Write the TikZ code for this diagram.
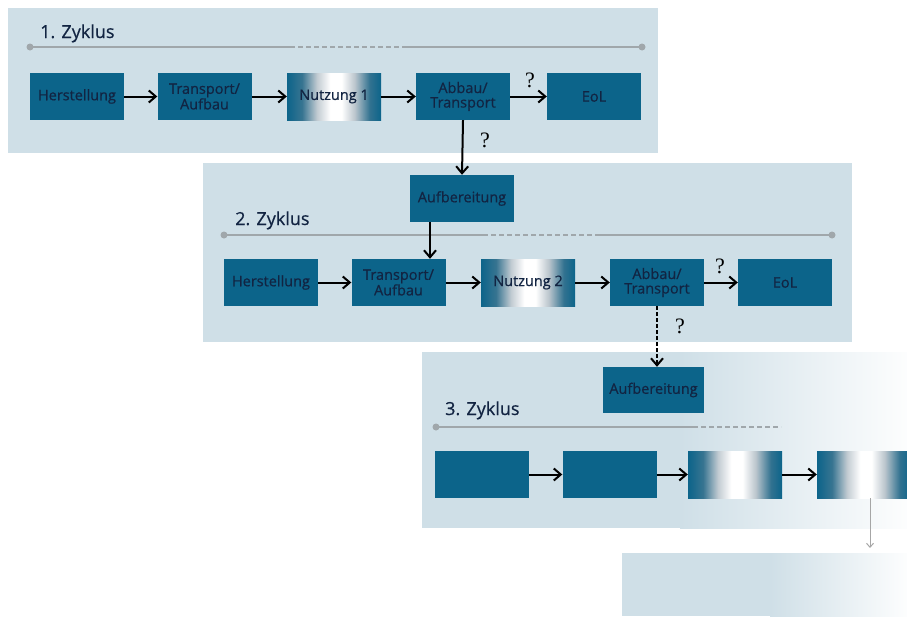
\documentclass[tikz,border=0pt]{standalone}
\usepackage{fontspec}
\setmainfont{Open Sans}
\newfontfamily\boxfont{Open Sans}[FakeBold=0.6]
\newfontfamily\qfont{Liberation Serif}
\usetikzlibrary{arrows.meta}

\definecolor{panelblue}{RGB}{207,223,231}
\definecolor{boxblue}{RGB}{12,100,138}
\definecolor{textnavy}{RGB}{18,36,66}
\definecolor{linegray}{RGB}{160,167,171}
\definecolor{fadegray}{RGB}{120,140,155}

% light band in the middle of the use-phase boxes
\pgfdeclarehorizontalshading{usefade}{100bp}{color(0bp)=(boxblue); color(25bp)=(boxblue);
  color(33bp)=(boxblue!60!fadegray); color(41bp)=(fadegray!45!white); color(48bp)=(white);
  color(54bp)=(white); color(61bp)=(fadegray!50!white); color(69bp)=(boxblue!65!fadegray);
  color(75bp)=(boxblue); color(100bp)=(boxblue)}

\tikzset{
  box/.style={minimum width=94pt, minimum height=47pt, inner sep=0pt, fill=boxblue,
    text=textnavy, align=center, font=\boxfont\fontsize{14.5}{14.5}\selectfont},
  usebox/.style={box, shading=usefade},
  flow/.style={-{Straight Barb[length=7pt,width=12pt]}, line width=2pt, black},
  track/.style={line width=1.6pt, linegray},
  title/.style={anchor=base west, inner sep=0pt, text=textnavy, font=\boxfont\fontsize{18}{20}\selectfont},
  quest/.style={inner sep=0pt, font=\qfont\fontsize{22}{24}\selectfont}
}

\begin{document}
\begin{tikzpicture}[x=1pt,y=-1pt]
\useasboundingbox (0,0) rectangle (907,616);

% Panels
\fill[panelblue] (8,8) rectangle (658,153);
\fill[panelblue] (203,163) rectangle (852,342);
\fill[panelblue] (422,352) rectangle (680,528);
\shade[left color=panelblue, right color=panelblue!5!white] (680,352) rectangle (907,528);
\fill[panelblue] (622,553) rectangle (770,616);
\shade[left color=panelblue, right color=panelblue!5!white] (770,553) rectangle (907,616);

% 1. Zyklus
\node[title] (title1) at (40,38) {1. Zyklus};
\draw[track] (30,47) -- (290,47);
\draw[track, dash pattern=on 5pt off 3pt] (290,47) -- (405,47);
\draw[track] (405,47) -- (642,47);
\fill[linegray] (30,47) circle (3.5pt) (642,47) circle (3.5pt);

\node[box] (herst1) at (77,96.5) {Herstellung};
\node[box] (trans1) at (204.5,96.5) {Transport/\\Aufbau};
\node[usebox] (nutz1) at (334,96.5) {Nutzung 1};
\node[box] (abbau1) at (463,96.5) {Abbau/\\Transport};
\node[box] (eol1) at (594,96.5) {EoL};

\draw[flow] (herst1) -- (trans1);
\draw[flow] (trans1) -- (nutz1);
\draw[flow] (nutz1) -- (abbau1);
\draw[flow] (abbau1) -- (eol1);
\node[quest] (q1) at (530,80) {?};

% 2. Zyklus
\node[box, minimum width=104pt] (aufb2) at (462,198.5) {Aufbereitung};
\draw[flow] (abbau1.south) -- (aufb2.north);
\node[quest] (q2) at (485,140) {?};

\node[title] (title2) at (235,225) {2. Zyklus};
\draw[track] (224,235) -- (483,235);
\draw[track, dash pattern=on 5pt off 3pt] (483,235) -- (600,235);
\draw[track] (600,235) -- (832,235);
\fill[linegray] (224,235) circle (3.5pt) (832,235) circle (3.5pt);

\node[box] (herst2) at (271,282.5) {Herstellung};
\node[box] (trans2) at (398.5,282.5) {Transport/\\Aufbau};
\node[usebox] (nutz2) at (528,282.5) {Nutzung 2};
\node[box] (abbau2) at (657,282.5) {Abbau/\\Transport};
\node[box] (eol2) at (785,282.5) {EoL};

\draw[flow] ([xshift=-32pt]aufb2.south) -- ([xshift=-32pt]aufb2.south |- trans2.north);
\draw[flow] (herst2) -- (trans2);
\draw[flow] (trans2) -- (nutz2);
\draw[flow] (nutz2) -- (abbau2);
\draw[flow] (abbau2) -- (eol2);
\node[quest] (q3) at (720,266) {?};

% 3. Zyklus
\node[box, minimum width=101pt, minimum height=46pt] (aufb3) at (653.5,390) {Aufbereitung};
\draw[flow, dash pattern=on 4pt off 2pt] (abbau2.south) -- (abbau2.south |- aufb3.north);
\node[quest] (q4) at (680,326) {?};

\node[title] (title3) at (445,415) {3. Zyklus};
\draw[track] (436,427) -- (693,427);
\draw[track, dash pattern=on 5pt off 3pt] (693,427) -- (781,427);
\fill[linegray] (436,427) circle (3.5pt);

\node[box] (herst3) at (482,474.5) {};
\node[box] (trans3) at (609.5,474.5) {};
\node[usebox] (nutz3) at (735,474.5) {};
\node[usebox] (abbau3) at (864,474.5) {};

\draw[flow] (herst3) -- (trans3);
\draw[flow] (trans3) -- (nutz3);
\draw[flow] (nutz3) -- (abbau3);

% fading continuation
\coordinate (weiter) at (870,548);
\draw[-{Straight Barb[length=4pt,width=7pt]}, line width=1pt, black!35] ([xshift=6pt]abbau3.south) -- (weiter);

\end{tikzpicture}
\end{document}
